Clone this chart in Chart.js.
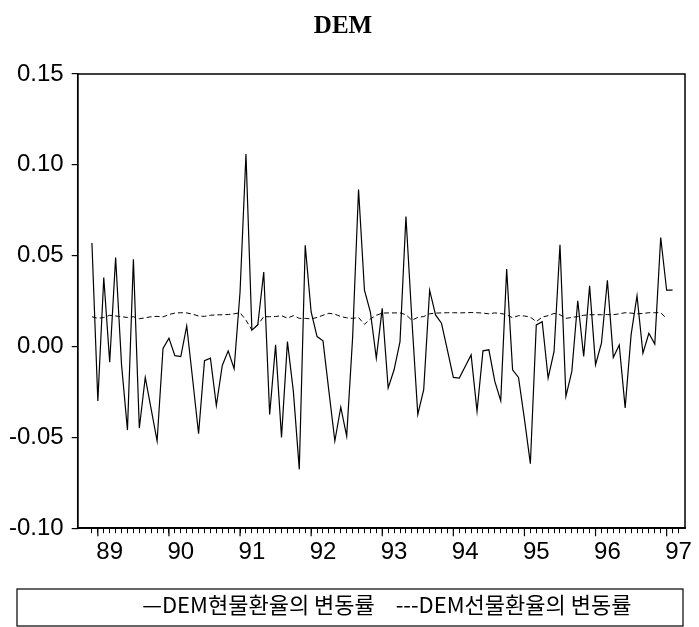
<!DOCTYPE html>
<html>
<head>
<meta charset="utf-8">
<script src="https://cdn.jsdelivr.net/npm/chart.js@4.4.1/dist/chart.umd.min.js"></script>
<style>
body { margin: 0; background: #fff; }
#wrap { width: 699px; height: 627px; position: relative; }
</style>
</head>
<body>
<div id="wrap"><canvas id="myChart"></canvas></div>
<script>
// x = months counted from 89:01 (0), series starts one month earlier
var firstMonth = -1
var years = ['89', '90', '91', '92', '93', '94', '95', '96', '97']
var spotLabel = 'DEM현물환율의 변동률'
var fwdLabel = 'DEM선물환율의 변동률'
var legendMarks = ['—', ' ---']

var spot = [
  0.057, -0.030, 0.038, -0.0086, 0.049, -0.010, -0.046, 0.048, -0.045, -0.017,
  -0.0345, -0.052, -0.001, 0.0046, -0.005, -0.0055, 0.0113, -0.018, -0.048, -0.0078,
  -0.0064, -0.0325, -0.0104, -0.0024, -0.0122, 0.030, 0.106, 0.009, 0.012, 0.041,
  -0.0374, 0.0009, -0.050, 0.0027, -0.0247, -0.0676, 0.0557, 0.019, 0.0055, 0.0031,
  -0.0247, -0.052, -0.0334, -0.0493, 0.005, 0.0864, 0.031, 0.019, -0.0064, 0.021,
  -0.0228, -0.0128, 0.0027, 0.0716, 0.015, -0.0374, -0.0237, 0.031, 0.0174, 0.0128,
  -0.002, -0.017, -0.0174, -0.011, -0.0046, -0.0356, -0.0024, -0.0018, -0.0192, -0.0298,
  0.0426, -0.0128, -0.017, -0.040, -0.0645, 0.0119, 0.0137, -0.0174, -0.0027, 0.056,
  -0.0274, -0.0137, 0.0252, -0.0055, 0.0334, -0.010, 0.0018, 0.0365, -0.006, 0.0009,
  -0.0338, 0.0064, 0.028, -0.0037, 0.0073, 0.0013, 0.060, 0.031, 0.031
]

var forward = [
  0.0164, 0.0155, 0.016, 0.0172, 0.0168, 0.0164, 0.016, 0.0164, 0.0153, 0.0158,
  0.0164, 0.0166, 0.0163, 0.0176, 0.0184, 0.0186, 0.0185, 0.0178, 0.0168, 0.0166,
  0.0172, 0.0174, 0.0175, 0.0176, 0.018, 0.0186, 0.0145, 0.0091, 0.012, 0.0164,
  0.0164, 0.0165, 0.017, 0.0156, 0.017, 0.0155, 0.0155, 0.0152, 0.016, 0.0172,
  0.0183, 0.0178, 0.0165, 0.0158, 0.0155, 0.016, 0.0122, 0.0152, 0.0172, 0.0184,
  0.0185, 0.0185, 0.0185, 0.0175, 0.0145, 0.016, 0.0165, 0.018, 0.0184, 0.0185,
  0.0186, 0.0186, 0.0185, 0.0186, 0.0187, 0.0186, 0.0184, 0.018, 0.0185, 0.0182,
  0.0175, 0.0158, 0.017, 0.0168, 0.0162, 0.0137, 0.0162, 0.017, 0.0182, 0.0175,
  0.0155, 0.016, 0.0165, 0.0172, 0.0175, 0.0175, 0.0175, 0.0176, 0.0175, 0.018,
  0.0186, 0.0184, 0.018, 0.0182, 0.0186, 0.0186, 0.0186, 0.0155
]

function toPoints(arr) {
  return arr.map(function (v, i) { return { x: i + firstMonth, y: v } })
}

// frame around plot, longer year ticks, box around legend
var framePlugin = {
  id: 'frame',
  afterDraw: function (chart) {
    var ctx = chart.ctx
    var a = chart.chartArea
    var xs = chart.scales.x
    var ys = chart.scales.y
    ctx.save()
    ctx.strokeStyle = '#000'
    ctx.lineWidth = 1.5
    ctx.strokeRect(a.left, a.top, a.right - a.left, a.bottom - a.top)
    ctx.lineWidth = 1.2
    for (var k = 0; k < years.length; k++) {
      var px = xs.getPixelForValue(k * 12)
      ctx.beginPath()
      ctx.moveTo(px, a.bottom)
      ctx.lineTo(px, a.bottom + 8)
      ctx.stroke()
    }
    var lg = chart.legend
    ctx.lineWidth = 1.2
    ctx.strokeRect(ys.left + 16, lg.top, a.right - 2 - (ys.left + 16), lg.height)
    ctx.restore()
  }
}

var ctx = document.getElementById('myChart').getContext('2d')
var myChart = new Chart(ctx, {
  type: 'line',
  data: {
    datasets: [{
      label: spotLabel,
      data: toPoints(spot),
      borderColor: '#000',
      borderWidth: 1.2,
      pointRadius: 0,
      tension: 0,
      fill: false
    }, {
      label: fwdLabel,
      data: toPoints(forward),
      borderColor: '#000',
      borderWidth: 1,
      borderDash: [5, 3],
      pointRadius: 0,
      tension: 0,
      fill: false
    }]
  },
  options: {
    responsive: true,
    maintainAspectRatio: false,
    animation: false,
    layout: { padding: { left: 1, right: 14, top: 0, bottom: 1 } },
    plugins: {
      title: {
        display: true,
        text: 'DEM',
        color: '#000',
        font: { family: 'Liberation Serif', size: 25, weight: 'bold' },
        padding: { top: 12, bottom: 32 }
      },
      legend: {
        display: true,
        position: 'bottom',
        fullSize: false,
        labels: {
          color: '#000',
          font: { family: 'Noto Sans CJK KR', size: 22 },
          boxWidth: 0,
          padding: 5,
          generateLabels: function (chart) {
            var items = Chart.defaults.plugins.legend.labels.generateLabels(chart)
            items.forEach(function (it, i) {
              it.text = legendMarks[i] + it.text
              it.fillStyle = 'rgba(0,0,0,0)'
              it.strokeStyle = 'rgba(0,0,0,0)'
              it.lineWidth = 0
            })
            return items
          }
        }
      },
      tooltip: { enabled: false }
    },
    scales: {
      x: {
        type: 'linear',
        min: -3.4,
        max: 99.1,
        afterBuildTicks: function (scale) {
          var t = []
          for (var m = firstMonth; m <= firstMonth + spot.length; m++) t.push({ value: m })
          scale.ticks = t
        },
        afterFit: function (scale) { scale.height += 17 },
        ticks: {
          autoSkip: false,
          maxRotation: 0,
          color: '#000',
          padding: 5,
          font: { family: 'Liberation Sans', size: 24 },
          callback: function (v) {
            return (v - 2) % 12 === 0 ? years[(v - 2) / 12] : ''
          }
        },
        grid: { drawOnChartArea: false, drawTicks: true, tickLength: 5, color: '#000', lineWidth: 1 },
        border: { display: true, color: '#000', width: 1.5 }
      },
      y: {
        min: -0.10,
        max: 0.15,
        ticks: {
          stepSize: 0.05,
          color: '#000',
          padding: 8,
          font: { family: 'Liberation Sans', size: 24 },
          callback: function (v) { return v.toFixed(2) }
        },
        grid: { drawOnChartArea: false, drawTicks: true, tickLength: 6, color: '#000', lineWidth: 1.2 },
        border: { display: true, color: '#000', width: 1.5 }
      }
    }
  },
  plugins: [framePlugin]
})
</script>
</body>
</html>
